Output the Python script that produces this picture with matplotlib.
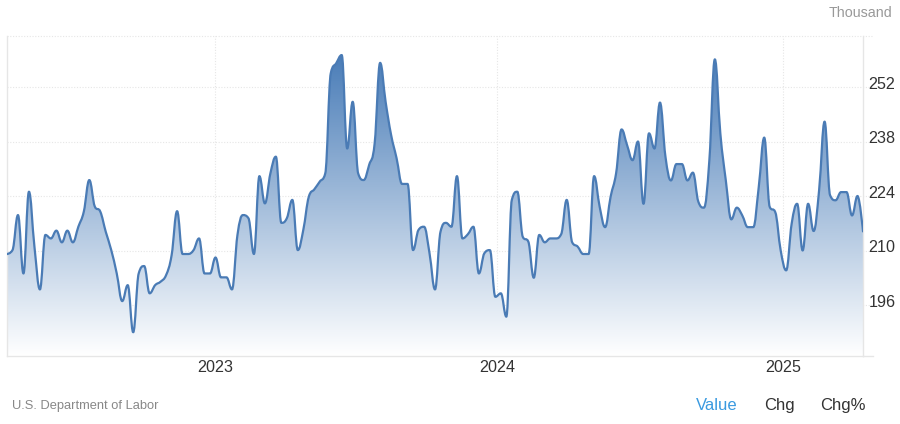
import numpy as np
import matplotlib
matplotlib.use('Agg')
import matplotlib.pyplot as plt
from matplotlib.colors import LinearSegmentedColormap
from matplotlib.path import Path
from matplotlib.patches import PathPatch
from matplotlib.transforms import ScaledTranslation

plt.rcParams['font.family'] = ['Liberation Sans', 'DejaVu Sans']

# valeurs hebdomadaires (milliers)
claims_2022 = [209.2, 210.2, 219.2, 204.2, 225.2, 211.1, 200.1, 214.1, 213.2, 215.2,
               212.2, 215.2, 212.2, 216.2, 220.1, 228.2, 221.4, 220.1, 214.9, 210.2,
               204.2, 197.1, 201.2, 189.1, 204.2, 206.1, 199.1, 201.2, 202.1, 203.8,
               208.9, 220.2, 209.2, 209.2, 210.2, 213.2, 204.2, 204.2]
claims_2023 = [208.3, 203.2, 203.2, 200.1, 214.1, 219.2, 218.4, 209.2, 229.2, 222.2,
               229.9, 234.2, 217.2, 218.4, 223.1, 210.2, 215.4, 223.9, 225.8, 227.8,
               229.9, 255.6, 258.2, 260.3, 236.3, 248.3, 229.9, 228.2, 232.1, 237.6,
               258.3, 248.3, 239.8, 233.8, 227.2, 227.2, 210.2, 215.4, 216.2, 209.4,
               200.1, 214.9, 217.2, 216.2, 229.2, 213.2, 214.3, 216.2, 204.2, 209.4,
               210.2]
claims_2024 = [198.2, 199.1, 193.1, 223.1, 225.2, 213.6, 212.4, 203.1, 214.1, 212.2,
               213.2, 213.2, 214.3, 223.1, 212.2, 211.1, 209.2, 209.2, 229.2, 221.4,
               216.1, 223.9, 229.9, 241.2, 237.2, 233.3, 238.1, 222.1, 240.2, 236.3,
               248.1, 234.2, 228.1, 232.3, 232.3, 228.1, 230.1, 222.6, 221.1, 233.3,
               259.2, 240.2, 228.1, 218.1, 221.1, 219.1, 216.1, 216.1, 226.4, 239.1,
               221.3, 220.0]
claims_2025 = [210.1, 205.0, 217.0, 222.1, 210.1, 222.1, 215.1, 225.6, 243.2, 224.3,
               223.0, 225.1, 225.1, 219.1, 224.1, 215.0]
claims = claims_2022 + claims_2023 + claims_2024 + claims_2025

year_pos = [37.9, 89.3, 141.4]
year_labels = ['2023', '2024', '2025']
y_ticks = [196, 210, 224, 238, 252]
y_min, y_max = 183, 265.2


def spline_path(xs, ys):
    # courbe de Bezier passant par chaque point (meme lissage que le graphique d'origine)
    verts = [(xs[0], ys[0])]
    codes = [Path.MOVETO]
    n = len(xs)
    left = [None] * n
    right = [None] * n
    right[0] = (xs[0], ys[0])
    left[n - 1] = (xs[n - 1], ys[n - 1])
    for i in range(1, n - 1):
        lx = (1.5 * xs[i] + xs[i - 1]) / 2.5
        ly = (1.5 * ys[i] + ys[i - 1]) / 2.5
        rx = (1.5 * xs[i] + xs[i + 1]) / 2.5
        ry = (1.5 * ys[i] + ys[i + 1]) / 2.5
        corr = (ry - ly) * (rx - xs[i]) / (rx - lx) + ys[i] - ry
        ly += corr
        ry += corr
        if ly > ys[i - 1] and ly > ys[i]:
            ly = max(ys[i - 1], ys[i])
            ry = 2 * ys[i] - ly
        elif ly < ys[i - 1] and ly < ys[i]:
            ly = min(ys[i - 1], ys[i])
            ry = 2 * ys[i] - ly
        if ry > ys[i + 1] and ry > ys[i]:
            ry = max(ys[i + 1], ys[i])
            ly = 2 * ys[i] - ry
        elif ry < ys[i + 1] and ry < ys[i]:
            ry = min(ys[i + 1], ys[i])
            ly = 2 * ys[i] - ry
        left[i] = (lx, ly)
        right[i] = (rx, ry)
    for i in range(1, n):
        verts += [right[i - 1], left[i], (xs[i], ys[i])]
        codes += [Path.CURVE4] * 3
    return verts, codes


W, H = 900, 424
fig = plt.figure(figsize=(W / 100, H / 100), dpi=100)
ax = fig.add_axes([7.0 / W, 1 - 356 / H, 856 / W, 320 / H])

xs = np.arange(len(claims))
ax.set_xlim(0, len(claims) - 1)
ax.set_ylim(y_min, y_max)

verts, codes = spline_path(list(xs), claims)

# grille pointillee
over = 1 + 10 / 856
grid_col = '#e6e6e6'
for v in y_ticks + [y_max]:
    ax.plot([0, over], [v, v], transform=ax.get_yaxis_transform(), color=grid_col,
            lw=0.8, ls=(0, (1, 1.5)), clip_on=False, zorder=1)
for v in year_pos:
    ax.axvline(v, color=grid_col, lw=0.8, ls=(0, (1, 1.5)), zorder=1)

# remplissage en degrade
cmap = LinearSegmentedColormap.from_list('area', ['#4a7db8', '#ffffff'])
grad = np.linspace(0, 1, 256).reshape(-1, 1)
im = ax.imshow(grad, cmap=cmap, aspect='auto', extent=(0, len(claims) - 1, y_min, 260.3),
               origin='upper', zorder=2)
fill_path = Path(verts + [(xs[-1], y_min), (0, y_min), (0, claims[0])],
                 codes + [Path.LINETO, Path.LINETO, Path.CLOSEPOLY])
clip = PathPatch(fill_path, transform=ax.transData, fc='none', ec='none')
ax.add_patch(clip)
im.set_clip_path(clip)

ax.add_patch(PathPatch(Path(verts, codes), fc='none', ec='#4a7bb5', lw=1.6, zorder=3,
                       capstyle='round', joinstyle='round'))

ax.spines['top'].set_visible(False)
for s in ['left', 'right', 'bottom']:
    ax.spines[s].set_color('#e6e6e6')
    ax.spines[s].set_linewidth(1.0)
ax.plot([1, over], [0, 0], transform=ax.transAxes, color='#e6e6e6', lw=1.0, clip_on=False)

ax.set_xticks(year_pos)
ax.set_xticklabels(year_labels, fontsize=11.6, color='#333333')
ax.tick_params(axis='x', length=0, pad=3)
ax.yaxis.tick_right()
ax.set_yticks(y_ticks)
ax.set_yticklabels([str(v) for v in y_ticks], fontsize=11.6, color='#333333', va='center')
ax.tick_params(axis='y', length=0, pad=4)
# les etiquettes sont un peu au-dessus de la grille
up = ScaledTranslation(0, 3 / 72 * 0.72, fig.dpi_scale_trans)
for lab in ax.get_yticklabels():
    lab.set_transform(lab.get_transform() + up)

fig.text(892 / W, 1 - 13 / H, 'Thousand', ha='right', va='center', fontsize=10.3, color='#999999')
fig.text(12 / W, 1 - 405.5 / H, 'U.S. Department of Labor', ha='left', va='center', fontsize=9.3, color='#888888')
fig.text(717 / W, 1 - 405.5 / H, 'Value', ha='center', va='center', fontsize=12, color='#3a9ae0')
fig.text(779.6 / W, 1 - 405.5 / H, 'Chg', ha='center', va='center', fontsize=12, color='#333333')
fig.text(842.5 / W, 1 - 405.5 / H, 'Chg%', ha='center', va='center', fontsize=12, color='#333333')

plt.savefig('out.png', dpi=100)
